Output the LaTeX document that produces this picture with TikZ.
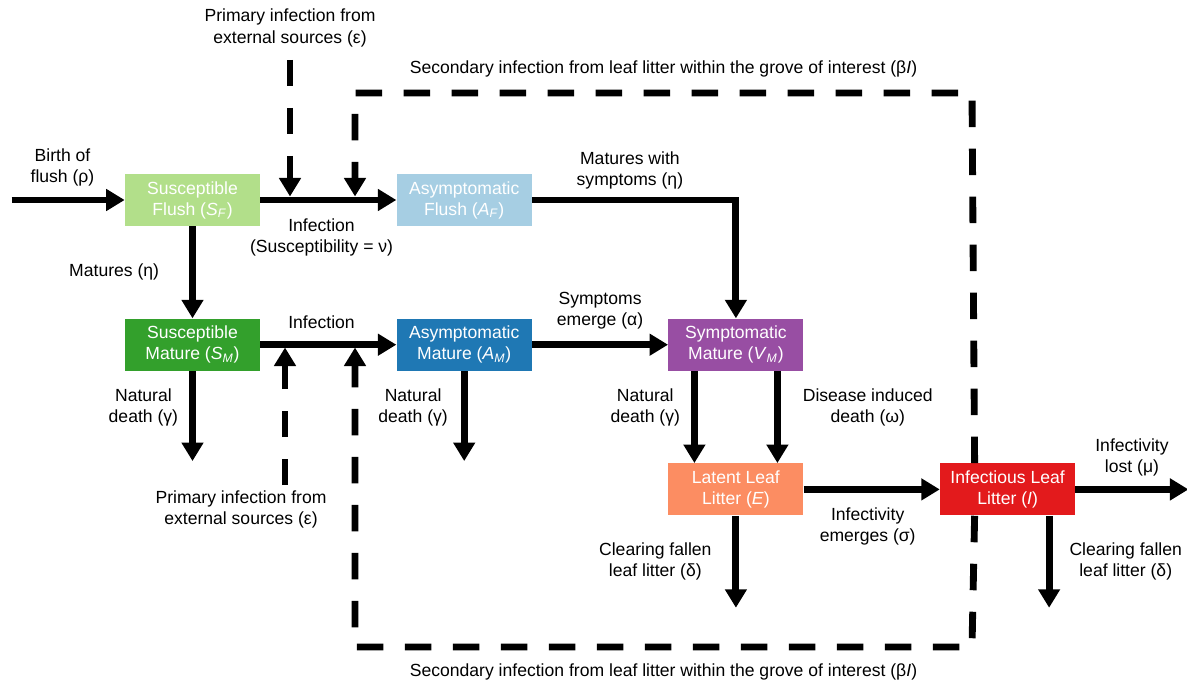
\documentclass[tikz,border=0pt]{standalone}
\usepackage{fontspec}
\setmainfont{Liberation Sans}
\usetikzlibrary{arrows.meta,positioning}
\definecolor{sfcolor}{HTML}{B2DF8A}
\definecolor{afcolor}{HTML}{A6CEE3}
\definecolor{smcolor}{HTML}{33A02C}
\definecolor{amcolor}{HTML}{1F78B4}
\definecolor{vmcolor}{HTML}{984EA3}
\definecolor{llcolor}{HTML}{FC8D62}
\definecolor{ilcolor}{HTML}{E31A1C}
\tikzset{
  compbox/.style={rectangle,minimum width=27mm,minimum height=10.4mm,inner sep=1pt,align=center,text=white},
  sflush/.style={compbox,fill=sfcolor},
  aflush/.style={compbox,fill=afcolor},
  smature/.style={compbox,fill=smcolor},
  amature/.style={compbox,fill=amcolor},
  vmature/.style={compbox,fill=vmcolor},
  latent/.style={compbox,fill=llcolor},
  infect/.style={compbox,fill=ilcolor},
  ratelabel/.style={inner sep=0pt,align=center},
  flowline/.style={line width=3.9pt},
  sourceline/.style={line width=3.9pt,dash pattern=on 5.3mm off 4.3mm}
}

\begin{document}
\begin{tikzpicture}[node distance=18.4mm and 27.2mm,>={Triangle[length=3.7mm,width=4.2mm]}]
  \useasboundingbox (0,0) rectangle (23.74,-13.6);
  \node[sflush] (sf) at (3.85,-4) {Susceptible\\Flush (\textit{S}\textsubscript{\textit{F}})};
  \node[aflush,right=of sf] (af) {Asymptomatic\\Flush (\textit{A}\textsubscript{\textit{F}})};
  \node[smature,below=of sf] (sm) {Susceptible\\Mature (\textit{S}\textsubscript{\textit{M}})};
  \node[amature,right=of sm] (am) {Asymptomatic\\Mature (\textit{A}\textsubscript{\textit{M}})};
  \node[vmature,right=of am] (vm) {Symptomatic\\Mature (\textit{V}\textsubscript{\textit{M}})};
  \node[latent,below=of vm] (ll) {Latent Leaf\\Litter (\textit{E})};
  \node[infect,right=of ll] (il) {Infectious Leaf\\Litter (\textit{I})};

  % free ends
  \coordinate[left=2.26cm of sf] (birth);
  \coordinate[below=1.8cm of sm] (smdead);
  \coordinate[below=1.8cm of am] (amdead);
  \coordinate[below=1.84cm of ll] (llclear);
  \coordinate[below=1.84cm of il,xshift=8.3mm] (ilclear);
  \coordinate[right=2.26cm of il] (lost);
  \coordinate (pritop) at (5.8,-1.2);
  \coordinate (prifa) at (5.8,-3.93);
  \coordinate (pribot) at (5.7,-9.7);
  \coordinate (prism) at (5.7,-6.95);
  \coordinate (gtr) at (19.44,-1.86);
  \coordinate (gtl) at (7.1,-1.86);
  \coordinate (infa) at (7.1,-3.93);
  \coordinate (gbr) at (19.44,-12.94);
  \coordinate (gbl) at (7.1,-12.94);
  \coordinate (infb) at (7.1,-6.95);

  \path[->,flowline]
    (birth) edge node[ratelabel,above=2.1mm,pos=0.45] (lbirth) {Birth of\\flush (ρ)} (sf)
    (sf) edge node[ratelabel,below=3mm,pos=0.45] (linf1) {Infection\\(Susceptibility = ν)} (af)
    (sf) edge node[ratelabel,left=6mm] (lmat) {Matures (η)} (sm)
    (sm) edge node[ratelabel,above=2.6mm,pos=0.45] (linf2) {Infection} (am)
    (am) edge node[ratelabel,above=2.4mm] (lsymp) {Symptoms\\emerge (α)} (vm)
    (sm) edge node[ratelabel,left=2.2mm,pos=0.4] (lnd1) {Natural\\death (γ)} (smdead)
    (am) edge node[ratelabel,left=2.6mm,pos=0.4] (lnd2) {Natural\\death (γ)} (amdead)
    ([xshift=-8.3mm]vm.south) edge node[ratelabel,left=2.2mm,pos=0.4] (lnd3) {Natural\\death (γ)} ([xshift=-8.3mm]ll.north)
    ([xshift=8.3mm]vm.south) edge node[ratelabel,right=4.4mm,pos=0.4] (ldis) {Disease induced\\death (ω)} ([xshift=8.3mm]ll.north)
    (ll) edge node[ratelabel,below=3mm,pos=0.47] (linfem) {Infectivity\\emerges (σ)} (il)
    (il) edge node[ratelabel,above=2mm] (llost) {Infectivity\\lost (μ)} (lost)
    (ll) edge node[ratelabel,left=4.2mm] (lclr1) {Clearing fallen\\leaf litter (δ)} (llclear)
    ([xshift=8.3mm]il.south) edge node[ratelabel,right=3.4mm] (lclr2) {Clearing fallen\\leaf litter (δ)} (ilclear);
  \draw[->,flowline] (af) -| node[ratelabel,pos=0.24,above=1.4mm] (lmatsym) {Matures with\\symptoms (η)} (vm);

  % primary infection from outside the grove
  \node[ratelabel,above=2.6mm of pritop] (lprim1) {Primary infection from\\external sources (ε)};
  \node[ratelabel,below=1mm of pribot,xshift=-8.8mm] (lprim2) {Primary infection from\\external sources (ε)};
  \draw[->,sourceline] (pritop) -- (prifa);
  \draw[->,sourceline] (pribot) -- (prism);

  % secondary infection within the grove
  \draw[->,sourceline] ([xshift=-6.6mm]il.north) -- (gtr)
    -- node[ratelabel,above=2.4mm] (lsec1) {Secondary infection from leaf litter within the grove of interest (β\textit{I})} (gtl) -- (infa);
  \draw[->,sourceline] ([xshift=-6.6mm]il.south) -- (gbr)
    -- node[ratelabel,below=2.6mm] (lsec2) {Secondary infection from leaf litter within the grove of interest (β\textit{I})} (gbl) -- (infb);
\end{tikzpicture}
\end{document}
